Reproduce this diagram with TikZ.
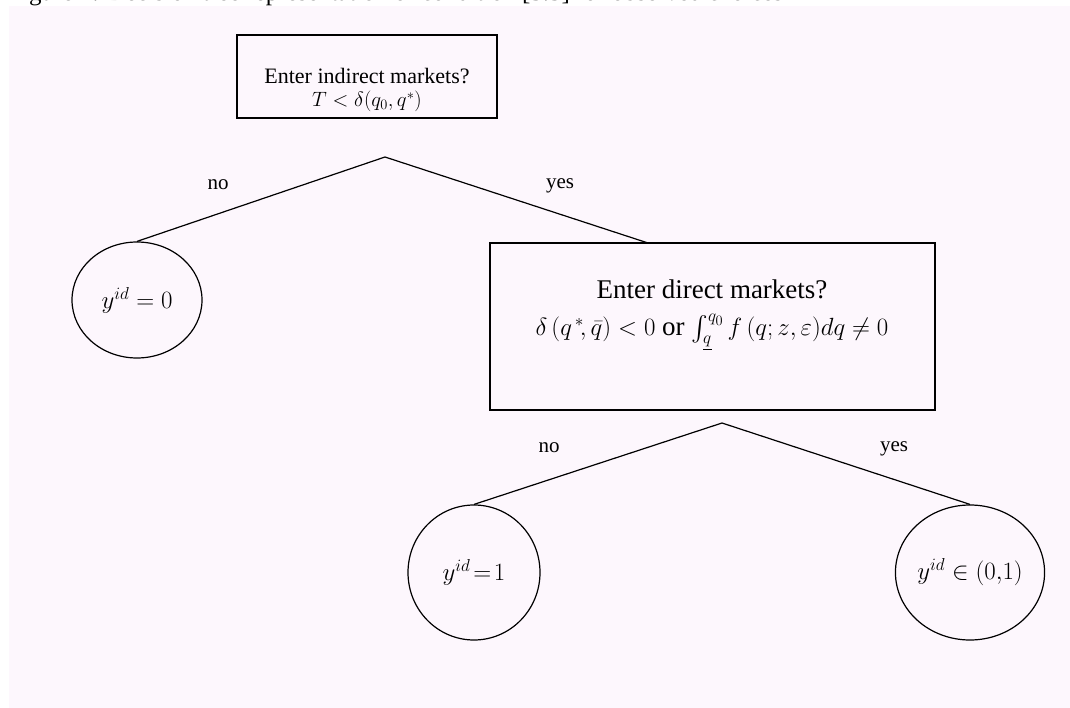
\documentclass[tikz,border=0pt]{standalone}
\usepackage{amsmath}
\usepackage{fontspec}
\setmainfont{Liberation Serif}
\usetikzlibrary{shapes.geometric}
\definecolor{bgpink}{RGB}{253,247,253}
\tikzset{
  txt/.style={font=\fontsize{22}{23}\selectfont, inner sep=0pt, align=center},
  bigtxt/.style={font=\fontsize{27}{37}\selectfont, inner sep=0pt, align=center},
  lab/.style={font=\fontsize{21}{25}\selectfont, inner sep=0pt},
  decbox/.style={draw=black, line width=1.2pt, rectangle, inner sep=0pt},
  leaf/.style={draw=black, line width=1.2pt, ellipse, inner sep=0pt, font=\fontsize{24}{28}\selectfont},
  branch/.style={draw=black, line width=1.2pt}
}
\begin{document}
\begin{tikzpicture}[x=1pt,y=-1pt]
\useasboundingbox (0,0) rectangle (1070,708);
\fill[white] (0,0) rectangle (1070,708);
% caption, mostly above the page: only its lowest parts show
\node[anchor=base west, inner sep=0pt] (cap) at (8,1) {\fontsize{25}{28}\selectfont Figure 4: Decision tree representation of condition [3.5] for observed choices};
\fill[bgpink] (9,6) rectangle (1070,708);
% first decision
\node[decbox, minimum width=260pt, minimum height=83pt] (q1) at (367,76.5) {};
\node[txt] (q1t) at (367,90) {Enter indirect markets?\\ $T<\delta(q_0,q^{*})$};
\coordinate (ap1) at (385,157);
\coordinate (q2in) at (648,243);
% leaf 0
\node[leaf, minimum width=130pt, minimum height=116pt] (l0) at (137,300) {$y^{id}=0$};
% second decision
\node[decbox, minimum width=445pt, minimum height=167pt] (q2) at (712.5,326.5) {};
\node[bigtxt] (q2t) at (712,315) {Enter direct markets?\\ $\delta\,(q^{\,*}\!,\bar q)<0$ or $\int_{\underline{q}}^{q_0} f\,(q;z,\varepsilon)dq\neq 0$};
\coordinate (ap2) at (722,423);
% leaves
\node[leaf, minimum width=132pt, minimum height=135pt] (l1) at (474,572.5) {$y^{id}\!=\!1$};
\node[leaf, minimum width=146pt, minimum height=135pt] (l2) at (970,572.5) {$y^{id}\in(0{,}1)$};
% branches
\draw[branch] (l0.north) -- (ap1) -- (q2in);
\draw[branch] (l1.north) -- (ap2) -- (l2.north);
% labels
\node[lab] (n1) at (218,185) {no};
\node[lab] (y1) at (560,186) {yes};
\node[lab] (n2) at (549,448) {no};
\node[lab] (y2) at (894,449) {yes};
\end{tikzpicture}
\end{document}
